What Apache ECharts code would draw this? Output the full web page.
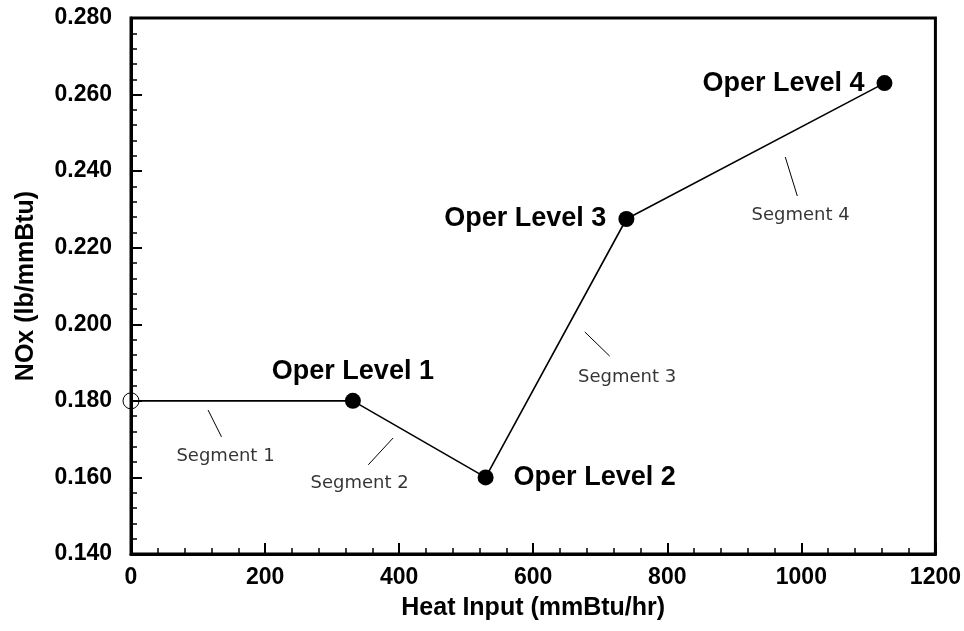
<!DOCTYPE html>
<html>
<head>
<meta charset="utf-8">
<title>NOx vs Heat Input</title>
<script src="https://cdn.jsdelivr.net/npm/echarts@6/dist/echarts.min.js"></script>
<style>
  html, body { margin: 0; padding: 0; background: #fff; }
  #chart { width: 964px; height: 631px; }
</style>
</head>
<body>
<div id="chart"></div>
<script>
// operating points
const heatInput = [0, 331, 529, 739, 1124];
const noxRate = [0.180, 0.180, 0.160, 0.2275, 0.263];
const levelNames = ["", "Oper Level 1", "Oper Level 2", "Oper Level 3", "Oper Level 4"];
const levelLabelSide = ["top", "top", "right", "left", "left"];

// segment callouts (data units)
const segmentNames = ["Segment 1", "Segment 2", "Segment 3", "Segment 4"];
const segmentTextAt = [[141, 0.1655], [341, 0.1585], [740, 0.1862], [999, 0.2285]];
const leaderFrom = [[115, 0.1776], [391, 0.1703], [677, 0.1980], [976, 0.2437]];
const leaderTo = [[135, 0.1706], [354, 0.1633], [714, 0.1917], [994, 0.2335]];

const xTicks = { min: 0, max: 1200, step: 200 };
const yTicks = { min: 0.14, max: 0.28, step: 0.02 };

const FONT = "Liberation Sans";

let chart = echarts.init(document.getElementById("chart"));

let points = heatInput.map((x, i) => ({
  value: [x, noxRate[i]],
  symbol: "circle",
  symbolSize: 16,
  itemStyle: i === 0
    ? { color: "rgba(255,255,255,0)", borderColor: "#000", borderWidth: 1 }
    : { color: "#000" },
  label: {
    show: i > 0,
    formatter: levelNames[i],
    position: levelLabelSide[i],
    distance: i === 2 ? 20 : (i === 1 ? 8 : 12),
  },
}));

let leaders = leaderFrom.map((p, i) => [{ coord: p }, { coord: leaderTo[i] }]);

let segText = segmentTextAt.map((p, i) => ({ value: p, name: segmentNames[i] }));

let axisCommon = {
  axisLine: { lineStyle: { color: "#000", width: 3 } },
  axisTick: { inside: true, length: 11, lineStyle: { color: "#000", width: 2 } },
  minorTick: { show: true, splitNumber: 5, length: 6, lineStyle: { color: "#000", width: 1.5 } },
  splitLine: { show: false },
  nameTextStyle: { fontFamily: FONT, fontWeight: "bold", fontSize: 25, color: "#000" },
};

let option = {
  animation: false,
  backgroundColor: "#fff",
  grid: {
    left: 131, right: 22, top: 18, bottom: 77,
    show: true, borderColor: "#000", borderWidth: 3,
  },
  xAxis: {
    type: "value",
    min: xTicks.min, max: xTicks.max, interval: xTicks.step,
    name: "Heat Input (mmBtu/hr)",
    nameLocation: "middle",
    nameGap: 42,
    axisLabel: {
      margin: 12, color: "#000",
      fontFamily: FONT, fontWeight: "bold", fontSize: 23,
      formatter: (v) => String(v),
    },
    ...axisCommon,
  },
  yAxis: {
    type: "value",
    min: yTicks.min, max: yTicks.max, interval: yTicks.step,
    name: "NOx (lb/mmBtu)",
    nameLocation: "middle",
    nameGap: 92,
    axisLabel: {
      margin: 19, color: "#000",
      fontFamily: FONT, fontWeight: "bold", fontSize: 23,
      formatter: (v) => v.toFixed(3),
    },
    ...axisCommon,
  },
  series: [
    {
      type: "line",
      data: points,
      clip: false,
      lineStyle: { color: "#000", width: 1.6 },
      label: {
        color: "#000", fontFamily: FONT, fontWeight: "bold", fontSize: 27,
      },
      markLine: {
        silent: true,
        symbol: "none",
        label: { show: false },
        lineStyle: { color: "#000", width: 1, type: "solid" },
        data: leaders,
      },
    },
    {
      type: "scatter",
      data: segText,
      symbolSize: 0,
      label: {
        show: true,
        position: "inside",
        formatter: (p) => p.name,
        color: "#000",
        fontFamily: "DejaVu Sans",
        fontSize: 18,
      },
    },
  ],
};

option && chart.setOption(option);
</script>
</body>
</html>
